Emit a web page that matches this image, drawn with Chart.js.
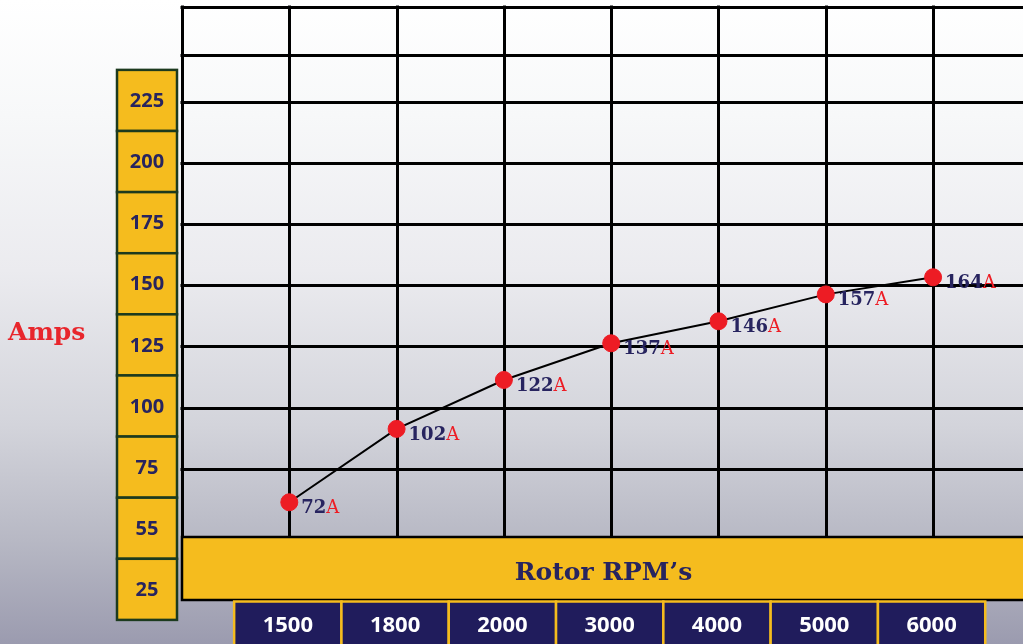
<!DOCTYPE html>
<html><head><meta charset="utf-8">
<script src="https://cdn.jsdelivr.net/npm/chart.js@4.4.1/dist/chart.umd.min.js"></script>
<style>
html,body{margin:0;padding:0;overflow:hidden;}
body{width:1023px;height:644px;background:linear-gradient(to bottom,#ffffff 0%,#f7f8f9 18%,#ebebef 42%,#d3d4db 66%,#b7b8c4 84%,#9b9baf 100%);}
canvas{display:block;}
</style></head><body>
<canvas id="c" width="1023" height="644"></canvas>
<script>
// ---- data ----
const rpmLabels = ['1500','1800','2000','3000','4000','5000','6000'];
const ampsValues = [72,102,122,137,146,157,164];
const ampsUnit = 'A';
const yTickValues = [225,200,175,150,125,100,75,50,25];
const yTickLabels = ['225','200','175','150','125','100','75','55','25'];
const gridValues = [75,100,125,150,175,200,225,244];
const xTitle = 'Rotor RPM\u2019s';
const yTitle = 'Amps';

const NAVY = '#27245f';
const YELLOW = '#f5bc1e';
const RED = '#ed1c24';

const gridPlugin = {
  id: 'grid',
  beforeDatasetsDraw(chart) {
    const ctx = chart.ctx, a = chart.chartArea, xs = chart.scales.x, ya = chart.scales.yAxis;
    ctx.save();
    ctx.strokeStyle = '#000';
    ctx.lineWidth = 3;
    ctx.beginPath();
    for (let i = -1; i < rpmLabels.length; i++) {
      const px = Math.round(xs.getPixelForValue(i)) + 0.5;
      ctx.moveTo(px, a.top - 1.5); ctx.lineTo(px, a.bottom);
    }
    const hs = [a.top].concat(gridValues.map(v => ya.getPixelForValue(v)));
    hs.forEach(py => { py = Math.round(py) + 0.5; ctx.moveTo(a.left - 1.5, py); ctx.lineTo(a.right + 2, py); });
    ctx.stroke();
    ctx.restore();
  }
};

const labelPlugin = {
  id: 'pointLabels',
  afterDatasetsDraw(chart) {
    const ctx = chart.ctx;
    const meta = chart.getDatasetMeta(0);
    ctx.save();
    ctx.textBaseline = 'middle';
    ctx.textAlign = 'left';
    meta.data.forEach((el, i) => {
      const x = el.x + 12, y = el.y + 6;
      const txt = String(ampsValues[i]);
      ctx.font = 'bold 18px "DejaVu Serif"';
      ctx.fillStyle = NAVY;
      ctx.fillText(txt, x, y);
      const w = ctx.measureText(txt).width;
      ctx.font = '18px "DejaVu Serif"';
      ctx.fillStyle = RED;
      ctx.fillText(ampsUnit, x + w, y);
    });
    ctx.restore();
  }
};

const framePlugin = {
  id: 'frame',
  afterDraw(chart) {
    const ctx = chart.ctx, a = chart.chartArea, xs = chart.scales.x, ya = chart.scales.yAxis;
    const W = chart.width;
    ctx.save();
    // x title bar
    const barTop = a.bottom, barH = 63;
    ctx.fillStyle = YELLOW;
    ctx.fillRect(a.left, barTop, W - a.left + 5, barH);
    ctx.strokeStyle = '#000'; ctx.lineWidth = 2.5;
    ctx.strokeRect(a.left, barTop, W - a.left + 5, barH);
    ctx.fillStyle = NAVY;
    ctx.font = 'bold 25px "DejaVu Serif"';
    ctx.textAlign = 'center'; ctx.textBaseline = 'middle';
    ctx.fillText(xTitle, (a.left + W) / 2 + 1, barTop + 36);
    // category boxes
    const step = xs.getPixelForValue(1) - xs.getPixelForValue(0);
    rpmLabels.forEach((lab, i) => {
      const cx = xs.getPixelForValue(i) - 1.5;
      ctx.fillStyle = '#201c5c';
      ctx.fillRect(cx - step / 2, barTop + barH + 1, step, 60);
      ctx.strokeStyle = YELLOW; ctx.lineWidth = 2.5;
      ctx.strokeRect(cx - step / 2, barTop + barH + 1.5, step, 60);
      ctx.fillStyle = '#ffffff';
      ctx.font = 'bold 22px "Open Sans"';
      ctx.fillText(lab, cx, barTop + barH + 26);
    });
    // y boxes
    const ystep = Math.abs(ya.getPixelForValue(yTickValues[0]) - ya.getPixelForValue(yTickValues[1]));
    yTickValues.forEach((v, j) => {
      const cy = ya.getPixelForValue(v) - 1.5;
      ctx.fillStyle = YELLOW;
      ctx.fillRect(117, cy - ystep / 2, 60, ystep);
      ctx.strokeStyle = '#1c3a1e'; ctx.lineWidth = 2.5;
      ctx.strokeRect(117, cy - ystep / 2, 60, ystep);
      ctx.fillStyle = NAVY;
      ctx.font = 'bold 20px "Open Sans"';
      ctx.fillText(yTickLabels[j], 147, cy + 1);
    });
    // y title
    ctx.fillStyle = '#e8262c';
    ctx.font = 'bold 25px "DejaVu Serif"';
    ctx.textAlign = 'left';
    ctx.fillText(yTitle, 8, 333);
    ctx.restore();
  }
};

new Chart(document.getElementById('c'), {
  type: 'line',
  data: {
    labels: rpmLabels,
    datasets: [{
      data: ampsValues.map((v, i) => ({ x: i, y: v })),
      borderColor: '#000',
      borderWidth: 2,
      tension: 0,
      pointRadius: 8.5,
      pointBorderWidth: 1,
      pointBackgroundColor: RED,
      pointBorderColor: RED,
      clip: false,
      yAxisID: 'y'
    }]
  },
  options: {
    responsive: false,
    animation: false,
    layout: { autoPadding: false, padding: { left: 182, top: 7, right: 0, bottom: 107 } },
    plugins: { legend: { display: false }, tooltip: { enabled: false } },
    scales: {
      x: { type: 'linear', display: false, min: -1, max: 6.838 },
      y: { type: 'linear', display: false, min: 57.8, max: 274.5 },
      yAxis: { type: 'linear', display: false, position: 'left', min: 47.03, max: 263.84 }
    }
  },
  plugins: [gridPlugin, labelPlugin, framePlugin]
});
</script>
</body></html>
